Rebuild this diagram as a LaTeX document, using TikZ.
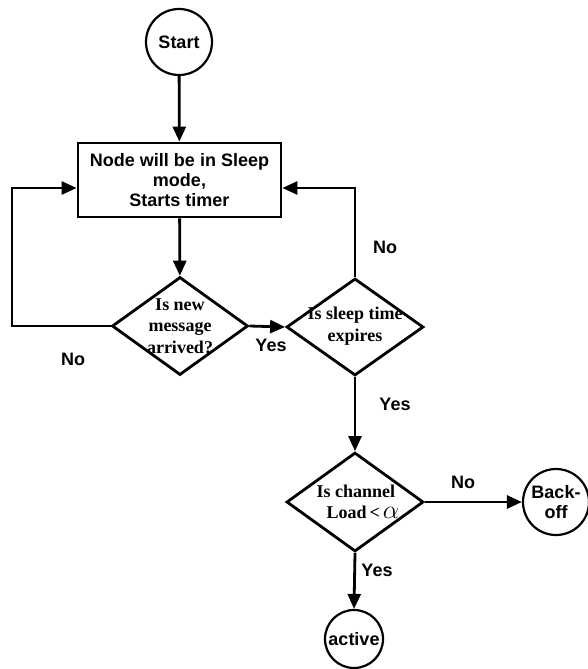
\documentclass[tikz,border=0pt]{standalone}
\usepackage{fontspec}
\setmainfont{Liberation Sans}
\newfontfamily\serifbold{Liberation Serif}[BoldFont={Liberation Serif Bold}]
\usetikzlibrary{shapes.geometric,arrows.meta}
\begin{document}
\begin{tikzpicture}[x=1pt,y=-1pt,
  every node/.style={font=\fontsize{18}{20}\selectfont\bfseries},
  flow/.style={line width=2.8pt, -{Triangle[length=15pt,width=13pt]}},
  term/.style={circle, draw, line width=2.2pt, inner sep=0pt, align=center},
  procbox/.style={rectangle, draw, line width=2.8pt, minimum width=203pt, minimum height=74pt, align=center, inner sep=0pt},
  decision/.style={diamond, draw, line width=2.8pt, inner sep=0pt},
  qtext/.style={font=\serifbold\fontsize{18}{21.5}\selectfont\bfseries, align=center},
  lab/.style={font=\fontsize{18}{20}\selectfont\bfseries}
]
\useasboundingbox (0,0) rectangle (587,669);

% terminals and process step
\node[term, minimum size=66pt] (start) at (179,42) {Start};
\node[procbox] (sleep) at (179.5,180) {Node will be in Sleep\\mode,\\Starts timer};

% decisions
\node[decision, minimum width=136pt, minimum height=98pt,
      label={[qtext]center:Is new\\message\\arrived?}] (msg) at (180,326) {};
\node[decision, minimum width=137pt, minimum height=97pt,
      label={[qtext, yshift=1pt]center:Is sleep time\\expires}] (timer) at (355,327) {};
\node[decision, minimum width=137pt, minimum height=99pt,
      label={[qtext, xshift=1pt]center:Is channel\\\hspace*{14pt}Load\,<\,\scalebox{1.5}{$\alpha$}}] (load) at (355,502) {};

\node[term, minimum size=66pt] (backoff) at (556,502) {Back-\\off};
\node[term, minimum size=58pt] (active) at (354,639) {active};

% bend points of the two loops
\coordinate (lbot) at (12,326);
\coordinate (ltop) at (12,188);
\coordinate (rtop) at (355,188);

% connectors
\draw[flow] (start) -- (sleep);
\draw[flow] (sleep) -- (msg);
\draw[flow] (msg.east) -- (timer.west);
\draw[flow] (msg.west) -- (lbot) -- (ltop) -- (ltop -| sleep.west);
\draw[flow] (timer.north) -- (rtop) -- (rtop -| sleep.east);
\draw[flow] (timer.south) -- (load.north);
\draw[flow] (load.east) -- (backoff.west);
\draw[flow] (load.south) -- (active.north);

% branch labels
\node[lab] (n1) at (73,359) {No};
\node[lab] (y1) at (271,345) {Yes};
\node[lab] (n2) at (385,247) {No};
\node[lab] (y2) at (395,404) {Yes};
\node[lab] (n3) at (463,482) {No};
\node[lab] (y3) at (377,570) {Yes};
\end{tikzpicture}
\end{document}
